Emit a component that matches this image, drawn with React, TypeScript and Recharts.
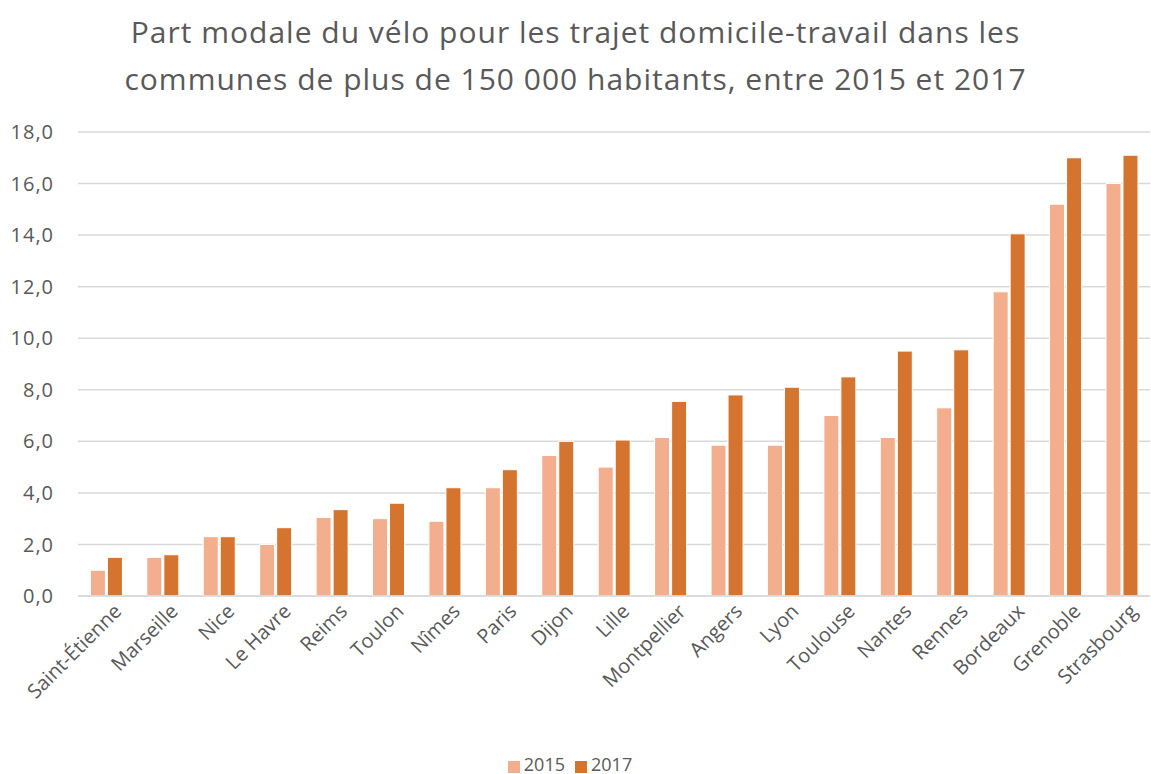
import React from 'react';
import { BarChart, Bar, XAxis, YAxis, CartesianGrid, Legend } from 'recharts';

const cities = [
  'Saint-Étienne', 'Marseille', 'Nice', 'Le Havre', 'Reims', 'Toulon', 'Nîmes', 'Paris', 'Dijon', 'Lille',
  'Montpellier', 'Angers', 'Lyon', 'Toulouse', 'Nantes', 'Rennes', 'Bordeaux', 'Grenoble', 'Strasbourg',
];
const values2015 = [1.0, 1.5, 2.3, 2.0, 3.05, 3.0, 2.9, 4.2, 5.45, 5.0, 6.15, 5.85, 5.85, 7.0, 6.15, 7.3, 11.8, 15.2, 16.0];
const values2017 = [1.5, 1.6, 2.3, 2.65, 3.35, 3.6, 4.2, 4.9, 6.0, 6.05, 7.55, 7.8, 8.1, 8.5, 9.5, 9.55, 14.05, 17.0, 17.1];
const yTicks = [0, 2, 4, 6, 8, 10, 12, 14, 16, 18];

const data = cities.map((city, i) => ({ city, y2015: values2015[i], y2017: values2017[i] }));

const GRAY = '#595959';
const FONT = '"Open Sans", "Liberation Sans", sans-serif';

const CityTick = (props: any) => {
  const { x, y, payload } = props;
  return (
    <g transform={`translate(${x + 6},${y - 2})`}>
      <text textAnchor="end" transform="rotate(-45)" dy="0.75em" fill={GRAY} fontSize={20} fontFamily={FONT}>
        {payload.value}
      </text>
    </g>
  );
};

const App: React.FC = () => {
  return (
    <div style={{ position: 'absolute', left: 0, top: 0, width: 1151, height: 774, background: '#fff' }}>
      <div
        style={{
          position: 'absolute',
          top: 8,
          left: 0,
          width: 1151,
          textAlign: 'center',
          fontFamily: FONT,
          fontSize: 30,
          letterSpacing: 1,
          lineHeight: '47px',
          color: GRAY,
        }}
      >
        Part modale du vélo pour les trajet domicile-travail dans les
        <br />
        communes de plus de 150 000 habitants, entre 2015 et 2017
      </div>
      <BarChart
        width={1151}
        height={774}
        data={data}
        margin={{ top: 132, right: 1, left: 0, bottom: 0 }}
        barCategoryGap="22%"
        barGap={2}
      >
        <CartesianGrid vertical={false} stroke="#d9d9d9" strokeWidth={1.5} />
        <XAxis
          dataKey="city"
          interval={0}
          height={156}
          tick={<CityTick />}
          tickLine={false}
          axisLine={{ stroke: '#d9d9d9', strokeWidth: 1.5 }}
        />
        <YAxis
          width={78}
          domain={[0, 18]}
          ticks={yTicks}
          interval={0}
          tickLine={false}
          axisLine={false}
          tickSize={0}
          tickMargin={24}
          tickFormatter={(v: number) => v.toFixed(1).replace('.', ',')}
          tick={{ fill: GRAY, fontSize: 20, fontFamily: FONT, letterSpacing: 1 }}
        />
        <Legend
          verticalAlign="bottom"
          align="center"
          iconType="square"
          iconSize={12}
          height={22}
          formatter={(value: string) => (
            <span style={{ color: GRAY, fontSize: 18, fontFamily: FONT }}>{value}</span>
          )}
        />
        <Bar dataKey="y2015" name="2015" fill="#F2AE8D" stroke="#fff" strokeWidth={1} isAnimationActive={false} />
        <Bar dataKey="y2017" name="2017" fill="#D5742F" stroke="#fff" strokeWidth={1} isAnimationActive={false} />
      </BarChart>
    </div>
  );
};

export default App;
